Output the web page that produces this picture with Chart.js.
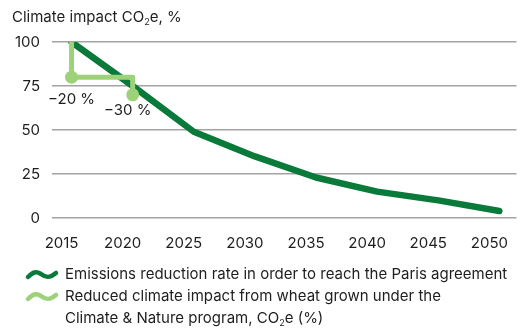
<!DOCTYPE html>
<html>
<head>
<meta charset="utf-8">
<script src="https://cdn.jsdelivr.net/npm/chart.js@4/dist/chart.umd.min.js"></script>
<style>
  html, body { margin: 0; padding: 0; background: #fff; }
  #wrap { width: 523px; height: 328px; }
</style>
</head>
<body>
<div id="wrap"><canvas id="myChart" width="523" height="328"></canvas></div>
<script>
// chart data
const chartTitle = "Climate impact CO₂e, %";
const years = [2015, 2020, 2025, 2030, 2035, 2040, 2045, 2050];
const parisPath = [100, 75, 49, 35, 23, 15, 10, 4];
const wheatYears = [2015, 2015, 2020, 2020];
const wheatValues = [100, 80, 80, 70];
const wheatNotes = ["", "−20 %", "", "−30 %"];
const xTicks = [2015, 2020, 2025, 2030, 2035, 2040, 2045, 2050];
const yTicks = [0, 25, 50, 75, 100];
const legendLabels = [
  ["Emissions reduction rate in order to reach the Paris agreement"],
  ["Reduced climate impact from wheat grown under the", "Climate & Nature program, CO₂e (%)"],
];

const DARK = "#097a3a";
const LIGHT = "#9dd27b";
const TEXT = "#1e1e1e";
const FONT = "Inter, 'Noto Sans', sans-serif";
const FS = 15;

// draws text, turning "₂" into a small lowered 2
function richText(ctx, str, x, y, size) {
  const parts = str.split("₂");
  let cx = x;
  parts.forEach((p, i) => {
    ctx.font = size + "px " + FONT;
    ctx.fillText(p, cx, y);
    cx += ctx.measureText(p).width;
    if (i < parts.length - 1) {
      ctx.font = Math.round(size * 0.6) + "px " + FONT;
      ctx.fillText("2", cx, y + size * 0.36);
      cx += ctx.measureText("2").width;
    }
  });
}

function wave(ctx, x, y, color) {
  ctx.save();
  ctx.strokeStyle = color;
  ctx.lineWidth = 4.5;
  ctx.lineCap = "round";
  ctx.lineJoin = "round";
  ctx.beginPath();
  ctx.moveTo(x, y + 2);
  ctx.bezierCurveTo(x + 5, y - 3, x + 8, y - 4, x + 13, y - 1);
  ctx.bezierCurveTo(x + 18, y + 3, x + 22, y + 3, x + 28, y - 2);
  ctx.stroke();
  ctx.restore();
}

const extras = {
  id: "extras",
  afterDatasetsDraw(chart) {
    const ctx = chart.ctx;
    const xs = chart.scales.x, ys = chart.scales.y;
    ctx.save();
    ctx.fillStyle = TEXT;
    ctx.textBaseline = "middle";

    // title
    ctx.textAlign = "left";
    richText(ctx, chartTitle, 12, 17, FS);

    // value notes under the wheat points
    ctx.textAlign = "center";
    ctx.font = FS + "px " + FONT;
    const noteShift = [null, [0, 22], null, [-5, 16]];
    wheatNotes.forEach((t, i) => {
      if (!t) return;
      const px = xs.getPixelForValue(wheatYears[i]) + noteShift[i][0];
      const py = ys.getPixelForValue(wheatValues[i]) + noteShift[i][1];
      ctx.fillText(t, px, py);
    });

    // legend
    ctx.textAlign = "left";
    let ly = 274;
    chart.data.datasets.forEach((ds, i) => {
      wave(ctx, 28, ly + 1, ds.borderColor);
      legendLabels[i].forEach((line) => {
        ctx.fillStyle = TEXT;
        richText(ctx, line, 65, ly, FS);
        ly += 22;
      });
    });
    ctx.restore();
  },
};

const ctx = document.getElementById("myChart").getContext("2d");
new Chart(ctx, {
  type: "line",
  data: {
    datasets: [
      {
        label: legendLabels[0].join(" "),
        data: years.map((y, i) => ({ x: y, y: parisPath[i] })),
        borderColor: DARK,
        borderWidth: 6.5,
        borderCapStyle: "round",
        borderJoinStyle: "round",
        pointRadius: 0,
        tension: 0,
        order: 2,
      },
      {
        label: legendLabels[1].join(" "),
        data: wheatYears.map((y, i) => ({ x: y, y: wheatValues[i] })),
        borderColor: LIGHT,
        backgroundColor: LIGHT,
        borderWidth: 5,
        borderCapStyle: "round",
        borderJoinStyle: "round",
        pointRadius: wheatNotes.map((t) => (t ? 6.5 : 0)),
        pointBorderWidth: 0,
        tension: 0,
        order: 1,
      },
    ],
  },
  options: {
    responsive: false,
    animation: false,
    layout: { padding: { left: 0, right: 3, top: 42, bottom: 0 } },
    plugins: { legend: { display: false }, tooltip: { enabled: false } },
    scales: {
      x: {
        type: "linear",
        min: 2013.4,
        max: 2051.4,
        afterBuildTicks: (s) => { s.ticks = xTicks.map((v) => ({ value: v })); },
        afterFit: (s) => { s.height = 110; s.paddingLeft = 0; s.paddingRight = 0; },
        grid: { display: false, drawTicks: false },
        border: { display: false },
        ticks: {
          color: TEXT,
          font: { family: FONT, size: FS },
          padding: 16,
          labelOffset: -10,
          maxRotation: 0,
          autoSkip: false,
          callback: (v) => String(v),
        },
      },
      y: {
        min: 0,
        max: 100,
        afterBuildTicks: (s) => { s.ticks = yTicks.map((v) => ({ value: v })); },
        afterFit: (s) => { s.width = 52; },
        grid: { color: "#a3a3a3", lineWidth: 1.6, drawTicks: false },
        border: { display: false },
        ticks: {
          color: TEXT,
          font: { family: FONT, size: FS },
          padding: 12,
        },
      },
    },
  },
  plugins: [extras],
});
</script>
</body>
</html>
